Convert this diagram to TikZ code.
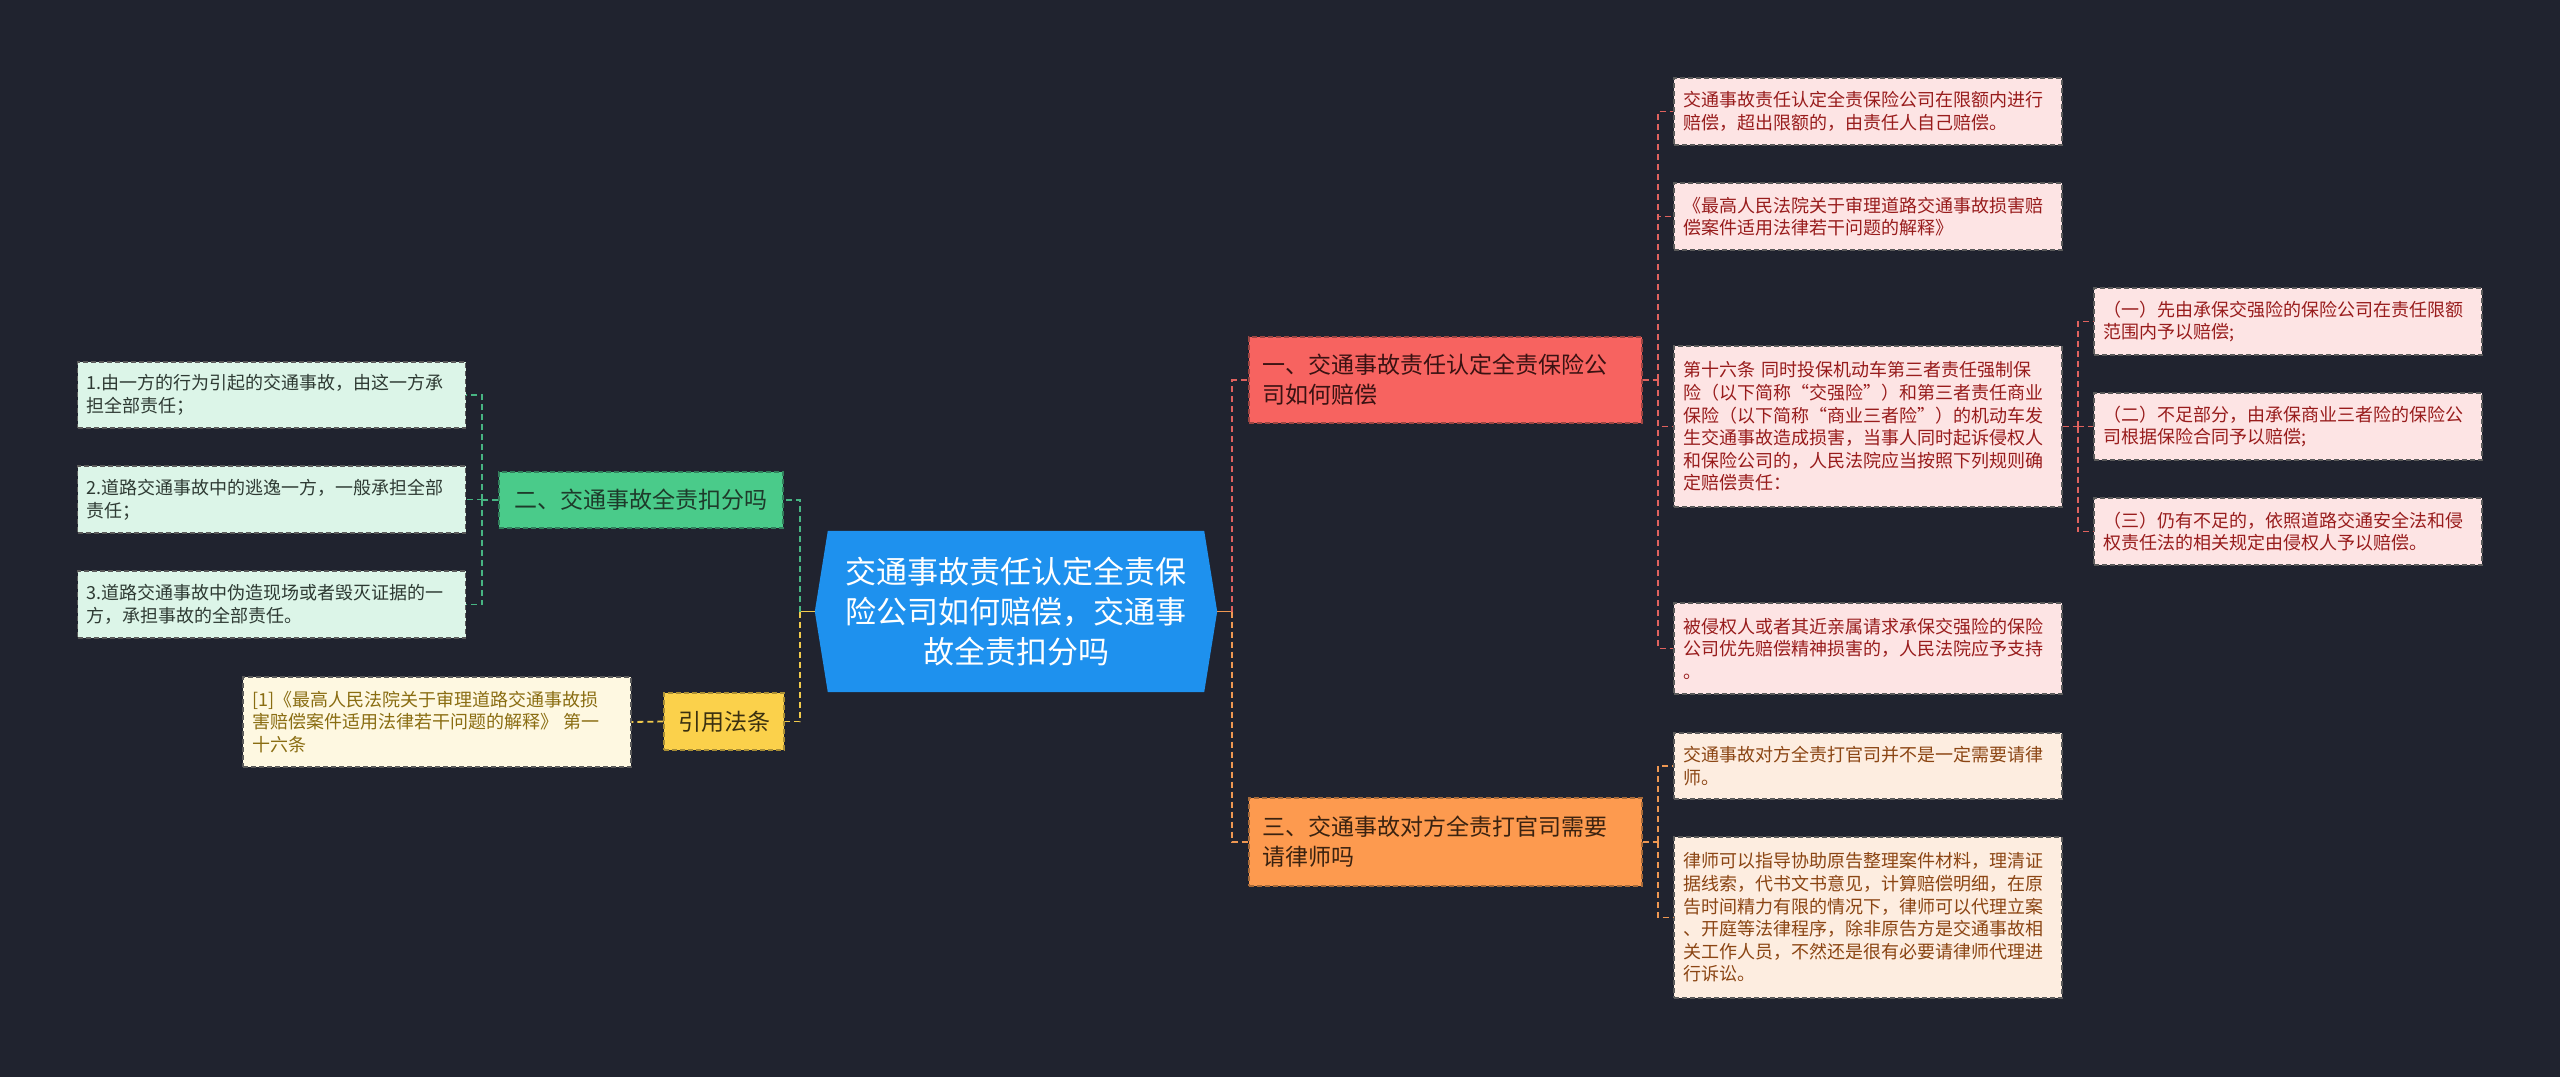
\documentclass[tikz,border=0pt]{standalone}
\usepackage{fontspec}
\setmainfont{Noto Sans CJK SC}
\usetikzlibrary{backgrounds,calc}
\definecolor{bg}{HTML}{20232F}
\definecolor{rootblue}{HTML}{1E91EE}
\definecolor{redfill}{HTML}{F76360}
\definecolor{redtext}{HTML}{3A1212}
\definecolor{redline}{HTML}{E0625E}
\definecolor{orfill}{HTML}{FD9A4F}
\definecolor{ortext}{HTML}{3A2210}
\definecolor{orline}{HTML}{EE9752}
\definecolor{grfill}{HTML}{4ACB8A}
\definecolor{grtext}{HTML}{1E3A2A}
\definecolor{grline}{HTML}{47B583}
\definecolor{yefill}{HTML}{FBD14B}
\definecolor{yetext}{HTML}{3A3010}
\definecolor{yeline}{HTML}{F2CB4C}
\definecolor{pinkfill}{HTML}{FDE4E4}
\definecolor{pinktext}{HTML}{981C1C}
\definecolor{peachfill}{HTML}{FDEDE0}
\definecolor{peachtext}{HTML}{8B4513}
\definecolor{mintfill}{HTML}{DCF5E8}
\definecolor{minttext}{HTML}{2E3A33}
\definecolor{creamfill}{HTML}{FEF8E1}
\definecolor{creamtext}{HTML}{8A6D12}
\definecolor{leafborder}{HTML}{5A5A5A}
\tikzset{
  dsh/.style={dash pattern=on 5pt off 3pt},
  leaf/.style={draw=leafborder, dsh, line width=1.2pt, inner xsep=9pt, inner ysep=0pt,
    text width=370pt, align=left, minimum height=#1, anchor=center,
    font=\fontsize{18}{22.6}\selectfont},
  pinkleaf/.style={leaf=#1, fill=pinkfill, text=pinktext},
  peachleaf/.style={leaf=#1, fill=peachfill, text=peachtext},
  mintleaf/.style={leaf=#1, fill=mintfill, text=minttext},
  creamleaf/.style={leaf=#1, fill=creamfill, text=creamtext},
  branchbox/.style={dsh, line width=1.2pt, inner ysep=0pt, minimum height=#1,
    font=\fontsize{23}{30}\selectfont},
  conn/.style={line width=1.8pt, dash pattern=on 6pt off 4pt},
}
\begin{document}
\begin{tikzpicture}[x=1pt,y=-1pt]
\useasboundingbox (0,0) rectangle (2560,1077);
% root
\node[font=\fontsize{31}{40}\selectfont, text=white, align=center, minimum width=376pt,
  minimum height=161pt, inner sep=0pt] (root) at (1016,611.5)
  {交通事故责任认定全责保\\险公司如何赔偿，交通事\\故全责扣分吗};
\begin{pgfonlayer}{background}
\fill[bg] (0,0) rectangle (2560,1077);
\fill[rootblue] (root.north west) -- (root.north east) -- ($(root.east)+(13,0)$)
  -- (root.south east) -- (root.south west) -- ($(root.west)+(-13,0)$) -- cycle;
\end{pgfonlayer}
\coordinate (rootW) at ($(root.west)+(-13,0)$);
\coordinate (rootE) at ($(root.east)+(13,0)$);

% branches
\node[branchbox=56pt, draw=grline!70!black, fill=grfill, text=grtext, minimum width=284pt] (G) at (641,500) {二、交通事故全责扣分吗};
\node[branchbox=57pt, draw=yeline!70!black, fill=yefill, text=yetext, minimum width=120pt] (Y) at (724,721.5) {引用法条};
\node[branchbox=86pt, draw=redline!70!black, fill=redfill, text=redtext, text width=367pt, inner xsep=13pt, align=left] (R) at (1445.5,380) {一、交通事故责任认定全责保险公\\司如何赔偿};
\node[branchbox=88pt, draw=orline!70!black, fill=orfill, text=ortext, text width=367pt, inner xsep=13pt, align=left] (O) at (1445.5,842) {三、交通事故对方全责打官司需要\\请律师吗};

% left leaves
\node[mintleaf=66pt] (L1) at (271.5,395) {1.由一方的行为引起的交通事故，由这一方承\\担全部责任；};
\node[mintleaf=67pt] (L2) at (271.5,499.5) {2.道路交通事故中的逃逸一方，一般承担全部\\责任；};
\node[mintleaf=67pt] (L3) at (271.5,604.5) {3.道路交通事故中伪造现场或者毁灭证据的一\\方，承担事故的全部责任。};
\node[creamleaf=90pt] (C1) at (437,722) {[1]《最高人民法院关于审理道路交通事故损\\害赔偿案件适用法律若干问题的解释》 第一\\十六条};

% right leaves
\node[pinkleaf=67pt] (R1) at (1868,111.5) {交通事故责任认定全责保险公司在限额内进行\\赔偿，超出限额的，由责任人自己赔偿。};
\node[pinkleaf=67pt] (R2) at (1868,216.5) {《最高人民法院关于审理道路交通事故损害赔\\偿案件适用法律若干问题的解释》};
\node[pinkleaf=161pt] (R3) at (1868,426.5) {第十六条 同时投保机动车第三者责任强制保\\险（以下简称“交强险”）和第三者责任商业\\保险（以下简称“商业三者险”）的机动车发\\生交通事故造成损害，当事人同时起诉侵权人\\和保险公司的，人民法院应当按照下列规则确\\定赔偿责任：};
\node[pinkleaf=91pt] (R4) at (1868,648.5) {被侵权人或者其近亲属请求承保交强险的保险\\公司优先赔偿精神损害的，人民法院应予支持\\。};
\node[pinkleaf=67pt] (S1) at (2288,321.5) {（一）先由承保交强险的保险公司在责任限额\\范围内予以赔偿;};
\node[pinkleaf=67pt] (S2) at (2288,426.5) {（二）不足部分，由承保商业三者险的保险公\\司根据保险合同予以赔偿;};
\node[pinkleaf=67pt] (S3) at (2288,531.5) {（三）仍有不足的，依照道路交通安全法和侵\\权责任法的相关规定由侵权人予以赔偿。};
\node[peachleaf=66pt] (O1) at (1868,766) {交通事故对方全责打官司并不是一定需要请律\\师。};
\node[peachleaf=161pt] (O2) at (1868,917.5) {律师可以指导协助原告整理案件材料，理清证\\据线索，代书文书意见，计算赔偿明细，在原\\告时间精力有限的情况下，律师可以代理立案\\、开庭等法律程序，除非原告方是交通事故相\\关工作人员，不然还是很有必要请律师代理进\\行诉讼。};

% junction coordinates
\coordinate (lj) at (800,611.5);
\coordinate (gj) at (482,500);
\coordinate (rj) at (1232,611.5);
\coordinate (rj2) at (1658,380);
\coordinate (oj) at (1658,842);
\coordinate (sj) at (2078,426.5);

% connectors left
\draw[line width=1.8pt, yeline] (rootW) -- (lj);
\draw[conn, grline] (lj) |- (G.east);
\draw[conn, yeline] (lj) |- (Y.east);
\draw[conn, grline] (G.west) -- (gj);
\draw[conn, grline] (gj) |- (L1.east);
\draw[conn, grline] (gj) |- (L2.east);
\draw[conn, grline] (gj) |- (L3.east);
\draw[conn, yeline] (Y.west) -- (C1.east);

% connectors right
\draw[line width=1.8pt, orline] (rootE) -- (rj);
\draw[conn, redline] (rj) |- (R.west);
\draw[conn, orline] (rj) |- (O.west);
\draw[conn, redline] (R.east) -- (rj2);
\draw[conn, redline] (rj2) |- (R1.west);
\draw[conn, redline] (rj2) |- (R2.west);
\draw[conn, redline] (rj2) |- (R3.west);
\draw[conn, redline] (rj2) |- (R4.west);
\draw[conn, redline] (R3.east) -- (sj);
\draw[conn, redline] (sj) |- (S1.west);
\draw[conn, redline] (sj) |- (S2.west);
\draw[conn, redline] (sj) |- (S3.west);
\draw[conn, orline] (O.east) -- (oj);
\draw[conn, orline] (oj) |- (O1.west);
\draw[conn, orline] (oj) |- (O2.west);
\end{tikzpicture}
\end{document}
